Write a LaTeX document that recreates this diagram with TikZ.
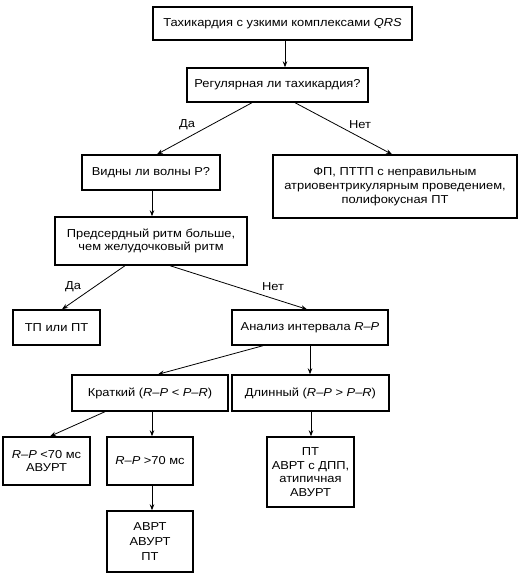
\documentclass[tikz,border=0pt]{standalone}
\usepackage{fontspec}
\setmainfont[FakeStretch=1.12]{Liberation Sans}
\usetikzlibrary{arrows.meta}
\begin{document}
\begin{tikzpicture}[x=1pt,y=-1pt,
  box/.style={draw,line width=1.4pt,rectangle,inner sep=2pt,align=center,font=\fontsize{11.5}{13.8}\selectfont},
  arr/.style={line width=0.8pt,-{Stealth[length=6pt,width=4.5pt]}},
  lab/.style={font=\fontsize{11.5}{13}\selectfont}]
\useasboundingbox (0,0) rectangle (531,580);
\node[box,minimum width=259pt,minimum height=33pt] (b1) at (282.5,23.5) {Тахикардия с узкими комплексами \textit{QRS}};
\node[box,minimum width=181pt,minimum height=34pt] (b2) at (277.5,85) {Регулярная ли тахикардия?};
\node[box,minimum width=138pt,minimum height=35pt] (b3) at (151,172.5) {Видны ли волны Р?};
\node[box,minimum width=244pt,minimum height=63pt] (b4) at (395,186.5) {ФП, ПТТП с неправильным\\атриовентрикулярным проведением,\\полифокусная ПТ};
\node[box,minimum width=192pt,minimum height=48pt] (b5) at (151,241) {Предсердный ритм больше,\\чем желудочковый ритм};
\node[box,minimum width=87pt,minimum height=35pt] (b6) at (56.5,327.5) {ТП или ПТ};
\node[box,minimum width=156pt,minimum height=35pt] (b7) at (310,327.5) {Анализ интервала \textit{R–P}};
\node[box,minimum width=156pt,minimum height=36pt] (b8) at (150,393) {Краткий (\textit{R–P} < \textit{P–R})};
\node[box,minimum width=157pt,minimum height=36pt] (b9) at (310.5,393) {Длинный (\textit{R–P} > \textit{P–R})};
\node[box,minimum width=87pt,minimum height=48pt] (b10) at (46.5,461) {\textit{R–P} <70 мс\\АВУРТ};
\node[box,minimum width=86pt,minimum height=48pt] (b11) at (150,461) {\textit{R–P} >70 мс};
\node[box,minimum width=87pt,minimum height=70pt] (b12) at (310.5,472) {ПТ\\АВРТ с ДПП,\\атипичная\\АВУРТ};
\node[box,minimum width=86pt,minimum height=61pt] (b13) at (150,541.5) {АВРТ\\[1.5pt]АВУРТ\\[1.5pt]ПТ};
\draw[arr] (b1.south -| 285,0) -- (b2.north -| 285,0);
\draw[arr] (b2.south -| 252,0) -- (b3.north -| 157,0);
\draw[arr] (b2.south -| 295,0) -- (b4.north -| 392,0);
\draw[arr] (b3.south -| 152,0) -- (b5.north -| 152,0);
\draw[arr] (b5.south -| 125,0) -- (b6.north -| 62,0);
\draw[arr] (b5.south -| 170,0) -- (b7.north -| 307,0);
\draw[arr] (b7.south -| 263,0) -- (b8.north -| 158,0);
\draw[arr] (b7.south -| 310,0) -- (b9.north -| 310,0);
\draw[arr] (b8.south -| 105,0) -- (b10.north -| 50,0);
\draw[arr] (b8.south -| 152,0) -- (b11.north -| 152,0);
\draw[arr] (b9.south -| 311,0) -- (b12.north -| 311,0);
\draw[arr] (b11.south -| 152,0) -- (b13.north -| 152,0);
\node[lab] (l1) at (187,125) {Да};
\node[lab] (l2) at (360,125) {Нет};
\node[lab] (l3) at (73,287) {Да};
\node[lab] (l4) at (273,287) {Нет};
\end{tikzpicture}
\end{document}
